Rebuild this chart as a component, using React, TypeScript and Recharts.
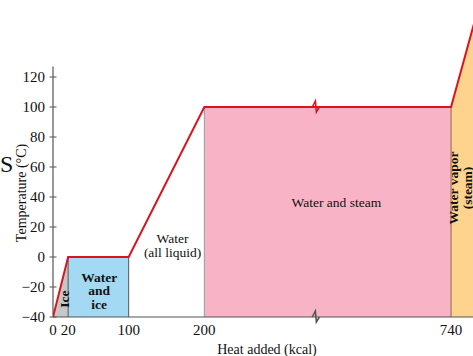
import React from "react";
import {
  ComposedChart,
  Line,
  Area,
  XAxis,
  YAxis,
  ReferenceArea,
  ReferenceLine,
  ReferenceDot,
} from "recharts";

// heat added (kcal) vs temperature (°C) for 1 kg of ice -> steam
const CURVE_HEAT = [0, 20, 100, 200, 740, 770];
const CURVE_TEMP = [-40, 0, 0, 100, 100, 155];

const HEAT_TICKS = [0, 20, 100, 200, 740];
const TEMP_TICKS = [-40, -20, 0, 20, 40, 60, 80, 100, 120];

// the x axis is broken between 200 and 740
const GAP_START = 200;
const GAP_END = 740;
const GAP_SHOWN = 326;
const BREAK_HEAT = 443;

const toAxis = (h: number) => {
  if (h <= GAP_START) return h;
  if (h >= GAP_END) return h - GAP_END + GAP_START + GAP_SHOWN;
  return GAP_START + ((h - GAP_START) * GAP_SHOWN) / (GAP_END - GAP_START);
};

const curve = CURVE_HEAT.map((h, i) => ({ u: toAxis(h), t: CURVE_TEMP[i] }));
const iceData = curve.slice(0, 2);
const steamData = curve.slice(4, 6);

const REGION_LABELS = [
  { lines: ["Ice"], heat: 15, temp: -28, bold: true, rotate: true },
  { lines: ["Water", "and", "ice"], heat: 61, temp: -22, bold: true, rotate: false },
  { lines: ["Water", "(all liquid)"], heat: 158, temp: 8, bold: false, rotate: false },
  { lines: ["Water and steam"], heat: 489, temp: 37, bold: false, rotate: false },
  { lines: ["Water vapor", "(steam)"], heat: 752, temp: 46, bold: true, rotate: true },
];

const FONT = "'Liberation Serif', 'Times New Roman', serif";
const RED = "#d9141e";
const AXIS = "#555";

const RegionText = ({ cx, cy, lines, bold, rotate }: any) => {
  const lh = 13.5;
  const first = -((lines.length - 1) * lh) / 2;
  return (
    <text
      x={cx}
      y={cy}
      textAnchor="middle"
      dominantBaseline="central"
      fontFamily={FONT}
      fontSize={13.5}
      fontWeight={bold ? 700 : 400}
      fill="#111"
      transform={rotate ? `rotate(-90 ${cx} ${cy})` : undefined}
    >
      {lines.map((s: string, i: number) => (
        <tspan key={i} x={cx} dy={i === 0 ? first : lh}>
          {s}
        </tspan>
      ))}
    </text>
  );
};

const Zig = ({ cx, cy, color }: any) => (
  <path
    d={`M${cx - 3},${cy} L${cx},${cy - 6} L${cx + 1},${cy + 5} L${cx + 4},${cy}`}
    fill="none"
    stroke={color}
    strokeWidth={1.6}
  />
);

const YTick = ({ x, y, payload }: any) => (
  <g>
    <line x1={x - 3.5} x2={x + 3.5} y1={y} y2={y} stroke={AXIS} strokeWidth={1} />
    <text x={x - 8} y={y} dy={5} textAnchor="end" fontFamily={FONT} fontSize={15} fill="#111">
      {String(payload.value).replace("-", "\u2212")}
    </text>
  </g>
);

const XTick = ({ x, y, payload }: any) => {
  const i = HEAT_TICKS.findIndex((h) => Math.abs(toAxis(h) - payload.value) < 0.01);
  return (
    <text x={x} y={y} dy={14} textAnchor="middle" fontFamily={FONT} fontSize={15} fill="#111">
      {i >= 0 ? HEAT_TICKS[i] : ""}
    </text>
  );
};

export default function App() {
  return (
    <div style={{ position: "absolute", left: 0, top: 0, width: 473, height: 356, background: "#fff", overflow: "hidden" }}>
      <span
        style={{
          position: "absolute",
          left: 0,
          top: 152,
          fontFamily: FONT,
          fontSize: 24,
          lineHeight: 1,
          color: "#111",
        }}
      >
        S
      </span>
      <ComposedChart
        width={473}
        height={356}
        data={curve}
        margin={{ top: 17, right: 0, bottom: 0, left: 0 }}
      >
        <XAxis
          dataKey="u"
          type="number"
          domain={[0, 555]}
          allowDataOverflow
          ticks={HEAT_TICKS.map(toAxis)}
          interval={0}
          tick={<XTick />}
          tickLine={false}
          tickSize={0}
          tickMargin={4}
          height={39}
          axisLine={{ stroke: AXIS, strokeWidth: 1.2 }}
          label={({ viewBox }: any) => (
            <text
              x={viewBox.x + 214}
              y={viewBox.y + 37}
              textAnchor="middle"
              fontFamily={FONT}
              fontSize={14}
              fill="#111"
            >
              Heat added (kcal)
            </text>
          )}
        />
        <YAxis
          type="number"
          domain={[-40, 160]}
          ticks={TEMP_TICKS}
          interval={0}
          tick={<YTick />}
          tickLine={false}
          tickSize={0}
          tickMargin={0}
          axisLine={false}
          width={53}
          label={() => (
            <text
              x={21}
              y={193}
              transform="rotate(-90 21 193)"
              textAnchor="middle"
              dominantBaseline="central"
              fontFamily={FONT}
              fontSize={14}
              fill="#111"
            >
              Temperature (°C)
            </text>
          )}
        />

        <Area
          data={iceData}
          dataKey="t"
          type="linear"
          baseValue={-40}
          fill="#c6c6c6"
          fillOpacity={1}
          stroke="none"
          isAnimationActive={false}
        />
        <ReferenceArea
          x1={toAxis(20)}
          x2={toAxis(100)}
          y1={-40}
          y2={0}
          fill="#a3d9f2"
          fillOpacity={1}
          stroke="none"
        />
        <ReferenceArea
          x1={toAxis(200)}
          x2={toAxis(740)}
          y1={-40}
          y2={100}
          fill="#f9b3c7"
          fillOpacity={1}
          stroke="none"
        />
        <Area
          data={steamData}
          dataKey="t"
          type="linear"
          baseValue={-40}
          fill="#fdd38d"
          fillOpacity={1}
          stroke="none"
          isAnimationActive={false}
        />

        <ReferenceLine segment={[{ x: 0, y: -40 }, { x: 0, y: 127 }]} stroke={AXIS} strokeWidth={1.2} />
        <ReferenceLine segment={[{ x: toAxis(20), y: -40 }, { x: toAxis(20), y: 0 }]} stroke="#555" strokeWidth={1} />
        <ReferenceLine segment={[{ x: toAxis(100), y: -40 }, { x: toAxis(100), y: 0 }]} stroke="#555" strokeWidth={1} />
        <ReferenceLine segment={[{ x: toAxis(200), y: -40 }, { x: toAxis(200), y: 100 }]} stroke="#999" strokeWidth={1} />
        <ReferenceLine segment={[{ x: toAxis(740), y: -40 }, { x: toAxis(740), y: 100 }]} stroke="#8a6a4a" strokeWidth={1} />

        <Line
          dataKey="t"
          type="linear"
          stroke={RED}
          strokeWidth={2}
          dot={false}
          activeDot={false}
          isAnimationActive={false}
        />

        <ReferenceDot x={toAxis(BREAK_HEAT)} y={100} r={0} shape={(p: any) => <Zig {...p} color={RED} />} />
        <ReferenceDot x={toAxis(BREAK_HEAT)} y={-40} r={0} shape={(p: any) => <Zig {...p} color={AXIS} />} />

        {REGION_LABELS.map((l, i) => (
          <ReferenceDot
            key={i}
            x={toAxis(l.heat)}
            y={l.temp}
            r={0}
            shape={(p: any) => <RegionText {...p} lines={l.lines} bold={l.bold} rotate={l.rotate} />}
          />
        ))}
      </ComposedChart>
    </div>
  );
}
